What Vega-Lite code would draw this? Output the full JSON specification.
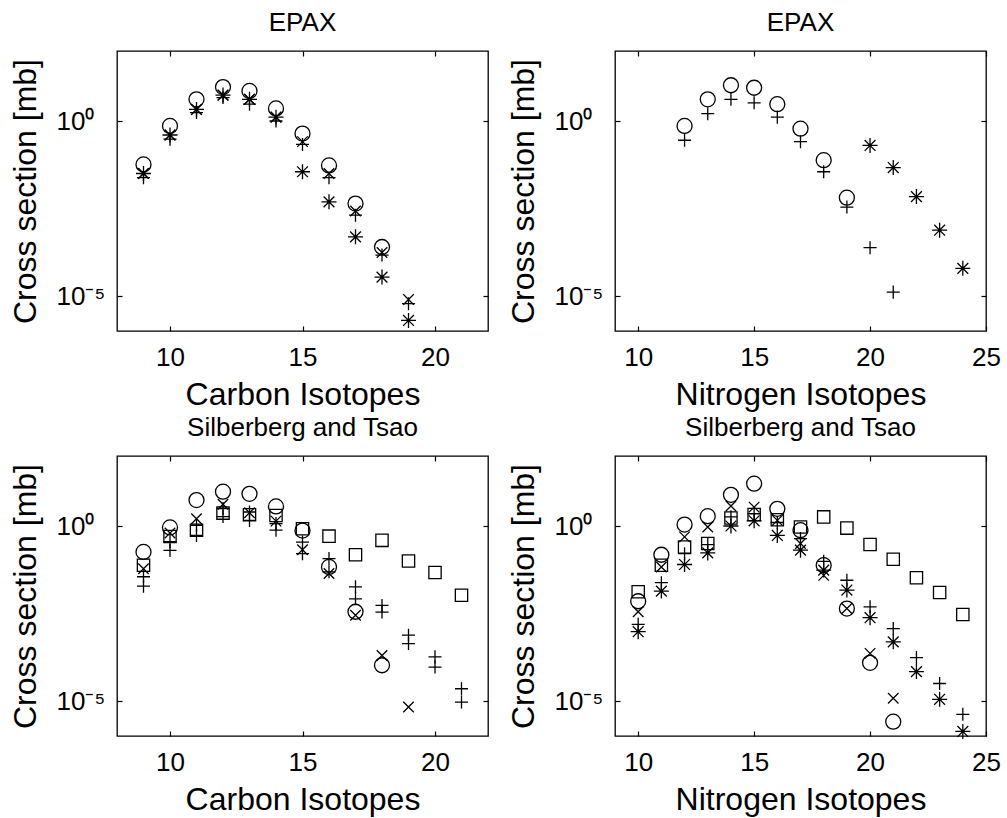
{
"$schema": "https://vega.github.io/schema/vega-lite/v6.json",
"padding": {"left": 8, "top": 9, "right": 5, "bottom": 5},
"columns": 2,
"spacing": {"row": 3, "column": 16},
"datasets": {
"CE": [
{"s":"circle","A":9,"cs":0.0575},{"s":"circle","A":10,"cs":0.724},{"s":"circle","A":11,"cs":4.17},{"s":"circle","A":12,"cs":9.33},{"s":"circle","A":13,"cs":7.24},{"s":"circle","A":14,"cs":2.29},{"s":"circle","A":15,"cs":0.437},{"s":"circle","A":16,"cs":0.0537},{"s":"circle","A":17,"cs":0.00437},{"s":"circle","A":18,"cs":0.000251},
{"s":"plus","A":9,"cs":0.024},{"s":"plus","A":10,"cs":0.302},{"s":"plus","A":11,"cs":1.74},{"s":"plus","A":12,"cs":4.68},{"s":"plus","A":13,"cs":3.02},{"s":"plus","A":14,"cs":1.0},{"s":"plus","A":15,"cs":0.214},{"s":"plus","A":16,"cs":0.024},{"s":"plus","A":17,"cs":0.00204},{"s":"plus","A":18,"cs":0.000148},{"s":"plus","A":19,"cs":6.03e-6},
{"s":"x","A":9,"cs":0.0316},{"s":"x","A":10,"cs":0.398},{"s":"x","A":11,"cs":2.14},{"s":"x","A":12,"cs":5.5},{"s":"x","A":13,"cs":4.17},{"s":"x","A":14,"cs":1.29},{"s":"x","A":15,"cs":0.257},{"s":"x","A":16,"cs":0.0316},{"s":"x","A":17,"cs":0.00269},{"s":"x","A":18,"cs":0.000174},{"s":"x","A":19,"cs":7.94e-6},
{"s":"star","A":9,"cs":0.0316},{"s":"star","A":10,"cs":0.398},{"s":"star","A":11,"cs":2.14},{"s":"star","A":12,"cs":5.5},{"s":"star","A":13,"cs":4.17},{"s":"star","A":14,"cs":1.29},{"s":"star","A":15,"cs":0.0355},{"s":"star","A":16,"cs":0.0049},{"s":"star","A":17,"cs":0.00049},{"s":"star","A":18,"cs":3.47e-5},{"s":"star","A":19,"cs":2.0e-6}
],
"NE": [
{"s":"circle","A":12,"cs":0.724},{"s":"circle","A":13,"cs":4.17},{"s":"circle","A":14,"cs":10.5},{"s":"circle","A":15,"cs":8.91},{"s":"circle","A":16,"cs":3.02},{"s":"circle","A":17,"cs":0.603},{"s":"circle","A":18,"cs":0.0759},{"s":"circle","A":19,"cs":0.00646},
{"s":"plus","A":12,"cs":0.282},{"s":"plus","A":13,"cs":1.62},{"s":"plus","A":14,"cs":4.17},{"s":"plus","A":15,"cs":3.31},{"s":"plus","A":16,"cs":1.29},{"s":"plus","A":17,"cs":0.257},{"s":"plus","A":18,"cs":0.0355},{"s":"plus","A":19,"cs":0.00347},{"s":"plus","A":20,"cs":0.00024},{"s":"plus","A":21,"cs":1.29e-5},
{"s":"star","A":20,"cs":0.2},{"s":"star","A":21,"cs":0.0468},{"s":"star","A":22,"cs":0.00692},{"s":"star","A":23,"cs":0.000759},{"s":"star","A":24,"cs":6.17e-5}
],
"CS": [
{"s":"circle","A":9,"cs":0.182},{"s":"circle","A":10,"cs":0.912},{"s":"circle","A":11,"cs":5.5},{"s":"circle","A":12,"cs":9.55},{"s":"circle","A":13,"cs":8.32},{"s":"circle","A":14,"cs":3.63},{"s":"circle","A":15,"cs":0.741},{"s":"circle","A":16,"cs":0.0676},{"s":"circle","A":17,"cs":0.00355},{"s":"circle","A":18,"cs":0.000105},
{"s":"square","A":9,"cs":0.0759},{"s":"square","A":10,"cs":0.501},{"s":"square","A":11,"cs":0.759},{"s":"square","A":12,"cs":2.34},{"s":"square","A":13,"cs":2.09},{"s":"square","A":14,"cs":2.0},{"s":"square","A":15,"cs":0.832},{"s":"square","A":16,"cs":0.513},{"s":"square","A":17,"cs":0.151},{"s":"square","A":18,"cs":0.389},{"s":"square","A":19,"cs":0.1},{"s":"square","A":20,"cs":0.0468},{"s":"square","A":21,"cs":0.0105},
{"s":"x","A":9,"cs":0.0603},{"s":"x","A":10,"cs":0.631},{"s":"x","A":11,"cs":1.62},{"s":"x","A":12,"cs":4.17},{"s":"x","A":13,"cs":2.4},{"s":"x","A":14,"cs":1.38},{"s":"x","A":15,"cs":0.209},{"s":"x","A":16,"cs":0.0437},{"s":"x","A":17,"cs":0.00282},{"s":"x","A":18,"cs":0.0002},{"s":"x","A":19,"cs":6.76e-6},
{"s":"plus","A":9,"cs":0.0355},{"s":"plus","A":10,"cs":0.355},{"s":"plus","A":11,"cs":1.05},{"s":"plus","A":12,"cs":3.16},{"s":"plus","A":13,"cs":2.51},{"s":"plus","A":14,"cs":1.17},{"s":"plus","A":15,"cs":0.347},{"s":"plus","A":16,"cs":0.117},{"s":"plus","A":17,"cs":0.0182},{"s":"plus","A":18,"cs":0.00537},{"s":"plus","A":19,"cs":0.000759},{"s":"plus","A":20,"cs":0.000182},{"s":"plus","A":21,"cs":2.24e-5},
{"s":"plus2","A":9,"cs":0.0191},{"s":"plus2","A":10,"cs":0.2},{"s":"plus2","A":11,"cs":0.537},{"s":"plus2","A":12,"cs":1.86},{"s":"plus2","A":13,"cs":1.45},{"s":"plus2","A":14,"cs":0.759},{"s":"plus2","A":15,"cs":0.162},{"s":"plus2","A":16,"cs":0.049},{"s":"plus2","A":17,"cs":0.00832},{"s":"plus2","A":18,"cs":0.00347},{"s":"plus2","A":19,"cs":0.000437},{"s":"plus2","A":20,"cs":9.33e-5},{"s":"plus2","A":21,"cs":9.33e-6}
],
"NS": [
{"s":"circle","A":10,"cs":0.00708},{"s":"circle","A":11,"cs":0.151},{"s":"circle","A":12,"cs":1.1},{"s":"circle","A":13,"cs":1.91},{"s":"circle","A":14,"cs":7.76},{"s":"circle","A":15,"cs":16.2},{"s":"circle","A":16,"cs":3.09},{"s":"circle","A":17,"cs":0.759},{"s":"circle","A":18,"cs":0.0759},{"s":"circle","A":19,"cs":0.00437},{"s":"circle","A":20,"cs":0.000123},{"s":"circle","A":21,"cs":2.57e-6},
{"s":"x","A":10,"cs":0.00355},{"s":"x","A":11,"cs":0.0676},{"s":"x","A":12,"cs":0.49},{"s":"x","A":13,"cs":0.933},{"s":"x","A":14,"cs":3.72},{"s":"x","A":15,"cs":3.47},{"s":"x","A":16,"cs":1.45},{"s":"x","A":17,"cs":0.316},{"s":"x","A":18,"cs":0.0389},{"s":"x","A":19,"cs":0.00437},{"s":"x","A":20,"cs":0.000229},{"s":"x","A":21,"cs":1.2e-5},
{"s":"square","A":10,"cs":0.0132},{"s":"square","A":11,"cs":0.0759},{"s":"square","A":12,"cs":0.251},{"s":"square","A":13,"cs":0.316},{"s":"square","A":14,"cs":1.7},{"s":"square","A":15,"cs":2.14},{"s":"square","A":16,"cs":1.51},{"s":"square","A":17,"cs":0.933},{"s":"square","A":18,"cs":1.82},{"s":"square","A":19,"cs":0.871},{"s":"square","A":20,"cs":0.295},{"s":"square","A":21,"cs":0.112},{"s":"square","A":22,"cs":0.0331},{"s":"square","A":23,"cs":0.0126},{"s":"square","A":24,"cs":0.00295},
{"s":"plus","A":10,"cs":0.00155},{"s":"plus","A":11,"cs":0.024},{"s":"plus","A":12,"cs":0.162},{"s":"plus","A":13,"cs":0.295},{"s":"plus","A":14,"cs":1.82},{"s":"plus","A":15,"cs":2.24},{"s":"plus","A":16,"cs":1.26},{"s":"plus","A":17,"cs":0.437},{"s":"plus","A":18,"cs":0.0977},{"s":"plus","A":19,"cs":0.0282},{"s":"plus","A":20,"cs":0.0049},{"s":"plus","A":21,"cs":0.00117},{"s":"plus","A":22,"cs":0.000174},{"s":"plus","A":23,"cs":3.16e-5},{"s":"plus","A":24,"cs":4.17e-6},
{"s":"star","A":10,"cs":0.000955},{"s":"star","A":11,"cs":0.0138},{"s":"star","A":12,"cs":0.0794},{"s":"star","A":13,"cs":0.17},{"s":"star","A":14,"cs":1.0},{"s":"star","A":15,"cs":1.41},{"s":"star","A":16,"cs":0.537},{"s":"star","A":17,"cs":0.204},{"s":"star","A":18,"cs":0.055},{"s":"star","A":19,"cs":0.0148},{"s":"star","A":20,"cs":0.0024},{"s":"star","A":21,"cs":0.00049},{"s":"star","A":22,"cs":6.92e-5},{"s":"star","A":23,"cs":1.12e-5},{"s":"star","A":24,"cs":1.35e-6}
]
},
"concat": [
{"data": {"name": "CE"}, "title": "EPAX", "width": 371, "height": 280,
 "layer": [
  {"mark": {"type": "point", "filled": false, "color": "black", "strokeWidth": 1.3, "opacity": 1, "size": 225},
   "encoding": {
    "x": {"field": "A", "type": "quantitative", "scale": {"domain": [8, 22], "nice": false, "zero": false}, "axis": {"values": [10, 15, 20], "title": "Carbon Isotopes"}},
    "y": {"field": "cs", "type": "quantitative", "scale": {"type": "log", "domain": [1e-6, 100], "nice": false}, "axis": {"values": [1e-5, 1], "labelExpr": "datum.value > 0.5 ? '10⁰' : '10⁻⁵'", "title": "Cross section [mb]"}},
    "shape": {"field": "s", "type": "nominal", "scale": {"domain": ["circle", "x", "plus", "plus2", "star", "square"], "range": ["circle", "M-0.7,-0.7L0.7,0.7M-0.7,0.7L0.7,-0.7", "M-0.87,0L0.87,0M0,-0.87L0,0.87", "M-0.87,0L0.87,0M0,-0.87L0,0.87", "M-1,0L1,0M0,-1L0,1M-0.72,-0.72L0.72,0.72M-0.72,0.72L0.72,-0.72", "M-0.82,-0.82L0.82,-0.82L0.82,0.82L-0.82,0.82Z"]}, "legend": null}
   }},
  {"mark": {"type": "point", "opacity": 0},
   "encoding": {
    "x": {"field": "A", "type": "quantitative", "scale": {"domain": [8, 22], "nice": false, "zero": false}, "axis": {"orient": "top", "values": [10, 15, 20], "labels": false, "title": null}},
    "y": {"field": "cs", "type": "quantitative", "scale": {"type": "log", "domain": [1e-6, 100], "nice": false}, "axis": {"orient": "right", "values": [1e-5, 1], "labels": false, "title": null}}
   }}
 ],
 "resolve": {"axis": {"x": "independent", "y": "independent"}}
},
{"data": {"name": "NE"}, "title": "EPAX", "width": 371, "height": 280,
 "layer": [
  {"mark": {"type": "point", "filled": false, "color": "black", "strokeWidth": 1.3, "opacity": 1, "size": 225},
   "encoding": {
    "x": {"field": "A", "type": "quantitative", "scale": {"domain": [9, 25], "nice": false, "zero": false}, "axis": {"values": [10, 15, 20, 25], "title": "Nitrogen Isotopes"}},
    "y": {"field": "cs", "type": "quantitative", "scale": {"type": "log", "domain": [1e-6, 100], "nice": false}, "axis": {"values": [1e-5, 1], "labelExpr": "datum.value > 0.5 ? '10⁰' : '10⁻⁵'", "title": "Cross section [mb]"}},
    "shape": {"field": "s", "type": "nominal", "scale": {"domain": ["circle", "x", "plus", "plus2", "star", "square"], "range": ["circle", "M-0.7,-0.7L0.7,0.7M-0.7,0.7L0.7,-0.7", "M-0.87,0L0.87,0M0,-0.87L0,0.87", "M-0.87,0L0.87,0M0,-0.87L0,0.87", "M-1,0L1,0M0,-1L0,1M-0.72,-0.72L0.72,0.72M-0.72,0.72L0.72,-0.72", "M-0.82,-0.82L0.82,-0.82L0.82,0.82L-0.82,0.82Z"]}, "legend": null}
   }},
  {"mark": {"type": "point", "opacity": 0},
   "encoding": {
    "x": {"field": "A", "type": "quantitative", "scale": {"domain": [9, 25], "nice": false, "zero": false}, "axis": {"orient": "top", "values": [10, 15, 20, 25], "labels": false, "title": null}},
    "y": {"field": "cs", "type": "quantitative", "scale": {"type": "log", "domain": [1e-6, 100], "nice": false}, "axis": {"orient": "right", "values": [1e-5, 1], "labels": false, "title": null}}
   }}
 ],
 "resolve": {"axis": {"x": "independent", "y": "independent"}}
},
{"data": {"name": "CS"}, "title": "Silberberg and Tsao", "width": 371, "height": 280,
 "layer": [
  {"mark": {"type": "point", "filled": false, "color": "black", "strokeWidth": 1.3, "opacity": 1, "size": 225},
   "encoding": {
    "x": {"field": "A", "type": "quantitative", "scale": {"domain": [8, 22], "nice": false, "zero": false}, "axis": {"values": [10, 15, 20], "title": "Carbon Isotopes"}},
    "y": {"field": "cs", "type": "quantitative", "scale": {"type": "log", "domain": [1e-6, 100], "nice": false}, "axis": {"values": [1e-5, 1], "labelExpr": "datum.value > 0.5 ? '10⁰' : '10⁻⁵'", "title": "Cross section [mb]"}},
    "shape": {"field": "s", "type": "nominal", "scale": {"domain": ["circle", "x", "plus", "plus2", "star", "square"], "range": ["circle", "M-0.7,-0.7L0.7,0.7M-0.7,0.7L0.7,-0.7", "M-0.87,0L0.87,0M0,-0.87L0,0.87", "M-0.87,0L0.87,0M0,-0.87L0,0.87", "M-1,0L1,0M0,-1L0,1M-0.72,-0.72L0.72,0.72M-0.72,0.72L0.72,-0.72", "M-0.82,-0.82L0.82,-0.82L0.82,0.82L-0.82,0.82Z"]}, "legend": null}
   }},
  {"mark": {"type": "point", "opacity": 0},
   "encoding": {
    "x": {"field": "A", "type": "quantitative", "scale": {"domain": [8, 22], "nice": false, "zero": false}, "axis": {"orient": "top", "values": [10, 15, 20], "labels": false, "title": null}},
    "y": {"field": "cs", "type": "quantitative", "scale": {"type": "log", "domain": [1e-6, 100], "nice": false}, "axis": {"orient": "right", "values": [1e-5, 1], "labels": false, "title": null}}
   }}
 ],
 "resolve": {"axis": {"x": "independent", "y": "independent"}}
},
{"data": {"name": "NS"}, "title": "Silberberg and Tsao", "width": 371, "height": 280,
 "layer": [
  {"mark": {"type": "point", "filled": false, "color": "black", "strokeWidth": 1.3, "opacity": 1, "size": 225},
   "encoding": {
    "x": {"field": "A", "type": "quantitative", "scale": {"domain": [9, 25], "nice": false, "zero": false}, "axis": {"values": [10, 15, 20, 25], "title": "Nitrogen Isotopes"}},
    "y": {"field": "cs", "type": "quantitative", "scale": {"type": "log", "domain": [1e-6, 100], "nice": false}, "axis": {"values": [1e-5, 1], "labelExpr": "datum.value > 0.5 ? '10⁰' : '10⁻⁵'", "title": "Cross section [mb]"}},
    "shape": {"field": "s", "type": "nominal", "scale": {"domain": ["circle", "x", "plus", "plus2", "star", "square"], "range": ["circle", "M-0.7,-0.7L0.7,0.7M-0.7,0.7L0.7,-0.7", "M-0.87,0L0.87,0M0,-0.87L0,0.87", "M-0.87,0L0.87,0M0,-0.87L0,0.87", "M-1,0L1,0M0,-1L0,1M-0.72,-0.72L0.72,0.72M-0.72,0.72L0.72,-0.72", "M-0.82,-0.82L0.82,-0.82L0.82,0.82L-0.82,0.82Z"]}, "legend": null}
   }},
  {"mark": {"type": "point", "opacity": 0},
   "encoding": {
    "x": {"field": "A", "type": "quantitative", "scale": {"domain": [9, 25], "nice": false, "zero": false}, "axis": {"orient": "top", "values": [10, 15, 20, 25], "labels": false, "title": null}},
    "y": {"field": "cs", "type": "quantitative", "scale": {"type": "log", "domain": [1e-6, 100], "nice": false}, "axis": {"orient": "right", "values": [1e-5, 1], "labels": false, "title": null}}
   }}
 ],
 "resolve": {"axis": {"x": "independent", "y": "independent"}}
}
],
"config": {
 "font": "Liberation Sans",
 "view": {"stroke": "black", "strokeWidth": 1.3},
 "axis": {"grid": false, "domain": false, "tickColor": "black", "tickSize": -5, "tickWidth": 1.2, "labelFontSize": 26, "labelColor": "black", "labelFont": "Liberation Sans", "titleFontSize": 32, "titleFontWeight": "normal", "titleColor": "black", "titleFont": "Liberation Sans", "labelFlush": false, "labelOverlap": false},
 "axisX": {"labelPadding": 18, "titlePadding": 9},
 "axisY": {"labelPadding": 66, "labelAlign": "left", "titlePadding": 14},
 "title": {"fontSize": 26, "fontWeight": "normal", "color": "black", "font": "Liberation Sans", "offset": 14}
}
}
